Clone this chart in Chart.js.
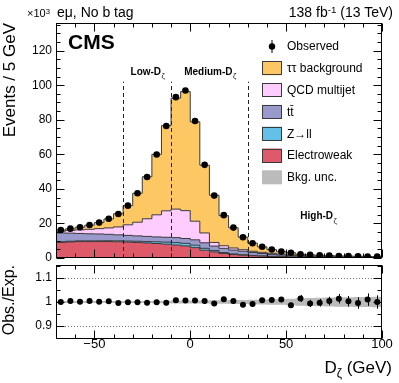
<!DOCTYPE html>
<html>
<head>
<meta charset="utf-8">
<script src="https://cdn.jsdelivr.net/npm/chart.js@4.4.1/dist/chart.umd.min.js"></script>
<style>
  html, body { margin: 0; padding: 0; background: #fff; }
  body { width: 399px; height: 383px; position: relative; overflow: hidden;
         font-family: 'Liberation Sans', Arial, Helvetica, sans-serif; color: #000; }
  canvas { position: absolute; left: 0; }
  #main { top: 0; }
  #ratio { top: 261px; }
  .txt { position: absolute; white-space: nowrap; line-height: 1; }
  .txt sup { font-size: 70%; vertical-align: 0.45em; line-height: 0; }
  .txt sub { font-size: 70%; vertical-align: -0.35em; line-height: 0; }
</style>
</head>
<body>
<canvas id="main" width="399" height="262" style="width:399px;height:262px"></canvas>
<canvas id="ratio" width="399" height="122" style="width:399px;height:122px"></canvas>
<div class="txt" style="left:27px; top:8px; font-size:11px;">×10<sup>3</sup></div>
<div class="txt" style="left:57px; top:5px; font-size:14px;">eμ, No b tag</div>
<div class="txt" style="right:6px; top:5px; font-size:14px;">138 fb<sup>-1</sup> (13 TeV)</div>
<div class="txt" style="right:7px; top:359px; font-size:17px;">D<sub>ζ</sub> (GeV)</div>
<script>
// D_zeta binning, 5 GeV bins from -70 to 100 (values in units of 10^3 events)
const binWidth = 5
const binCenters = [-67.5, -62.5, -57.5, -52.5, -47.5, -42.5, -37.5, -32.5, -27.5, -22.5,
  -17.5, -12.5, -7.5, -2.5, 2.5, 7.5, 12.5, 17.5, 22.5, 27.5,
  32.5, 37.5, 42.5, 47.5, 52.5, 57.5, 62.5, 67.5, 72.5, 77.5,
  82.5, 87.5, 92.5, 97.5]

const observed = [16.2, 17.0, 17.8, 19.1, 20.5, 22.7, 25.5, 30.3, 37.5, 46.9,
  59.9, 76.4, 93.1, 96.9, 79.3, 53.9, 36.1, 24.8, 17.6, 12.0,
  8.5, 6.5, 4.9, 3.7, 3.0, 2.2, 1.8, 1.6, 1.4, 1.2,
  1.1, 1.0, 0.9, 0.8]

const electroweak = [9.0, 9.3, 9.5, 9.5, 9.5, 9.5, 9.4, 9.2, 9.0, 8.7,
  8.4, 8.0, 7.5, 7.0, 6.0, 4.5, 3.5, 2.6, 2.0, 1.6,
  1.3, 1.05, 0.85, 0.7, 0.55, 0.45, 0.35, 0.3, 0.25, 0.2,
  0.18, 0.15, 0.12, 0.1]

const zll = [0.4, 0.4, 0.4, 0.4, 0.45, 0.5, 0.55, 0.6, 0.7, 0.8,
  1.0, 1.2, 1.4, 1.5, 1.4, 1.1, 0.8, 0.55, 0.4, 0.3,
  0.2, 0.15, 0.12, 0.1, 0.08, 0.06, 0.05, 0.04, 0.03, 0.03,
  0.02, 0.02, 0.02, 0.02]

const ttbar = [5.1, 4.7, 4.3, 4.1, 3.95, 3.7, 3.45, 3.3, 3.1, 3.0,
  2.8, 2.8, 2.9, 2.8, 3.1, 3.2, 2.6, 2.45, 2.2, 2.0,
  1.7, 1.4, 1.13, 0.9, 0.77, 0.59, 0.5, 0.41, 0.32, 0.27,
  0.25, 0.23, 0.21, 0.18]

const qcd = [1.0, 1.6, 2.1, 2.6, 3.1, 3.7, 4.6, 6.1, 7.9, 10.2,
  12.8, 15.3, 16.5, 16.1, 10.8, 5.7, 2.1, 1.5, 1.2, 0.9,
  0.7, 0.7, 0.6, 0.5, 0.4, 0.4, 0.3, 0.25, 0.25, 0.2,
  0.15, 0.1, 0.1, 0.1]

const tautau = [0.7, 0.9, 1.5, 2.4, 3.5, 5.2, 7.6, 11.1, 16.8, 24.3,
  35.0, 49.3, 64.2, 68.9, 57.5, 39.2, 27.3, 17.4, 11.7, 7.3,
  4.7, 3.15, 2.16, 1.46, 1.24, 0.67, 0.61, 0.6, 0.54, 0.48,
  0.5, 0.5, 0.44, 0.4]

// Obs./Exp. ratio panel
const ratio = [1.000, 1.004, 1.001, 1.004, 1.001, 1.003, 0.996, 0.999, 0.999, 0.997,
  0.999, 0.997, 1.007, 1.006, 1.006, 1.004, 0.994, 1.011, 1.004, 0.989,
  0.992, 1.007, 1.008, 1.010, 0.986, 1.015, 0.994, 0.997, 1.004, 1.014,
  1.003, 0.996, 1.010, 1.000]

const ratioErr = [0.003, 0.003, 0.003, 0.003, 0.003, 0.003, 0.003, 0.003, 0.003, 0.003,
  0.003, 0.003, 0.003, 0.003, 0.003, 0.003, 0.003, 0.003, 0.004, 0.005,
  0.006, 0.007, 0.008, 0.009, 0.011, 0.014, 0.015, 0.016, 0.018, 0.02,
  0.022, 0.024, 0.026, 0.028]

const bkgUnc = [0.004, 0.004, 0.004, 0.004, 0.004, 0.004, 0.004, 0.004, 0.004, 0.004,
  0.005, 0.005, 0.006, 0.006, 0.006, 0.006, 0.007, 0.007, 0.008, 0.008,
  0.009, 0.01, 0.011, 0.012, 0.014, 0.016, 0.017, 0.018, 0.019, 0.02,
  0.02, 0.021, 0.021, 0.022]

// axis ticks
const xTickLabels = [-50, 0, 50, 100]
const yTickLabels = [0, 20, 40, 60, 80, 100, 120]
const ratioTickLabels = [0.9, 1, 1.1]
const ratioRefLines = [0.9, 1.1]

// category boundaries and their labels
const regionEdges = [-35, -10, 30]
const regionLabels = [
  { name: 'Low-D', x: -22.3, y: 106 },
  { name: 'Medium-D', x: 10.3, y: 106 },
  { name: 'High-D', x: 66.8, y: 22.5 }
]

const font = "'Liberation Sans', Arial, Helvetica, sans-serif"

const colors = {
  tautau: '#fdc864',
  qcd: '#ffccff',
  ttbar: '#9999cc',
  zll: '#64c0e8',
  ew: '#de5a6a',
  unc: '#bbbbbb',
  outline: '#3a3a3a'
}

// turn per-bin values into step points on the bin edges
function steps(values) {
  const pts = values.map((v, i) => ({ x: binCenters[i] - binWidth / 2, y: v }))
  pts.push({ x: binCenters[binCenters.length - 1] + binWidth / 2, y: values[values.length - 1] })
  return pts
}

function points(values) {
  return values.map((v, i) => ({ x: binCenters[i], y: v }))
}

function stackSet(label, values, color, fill) {
  return {
    label: label,
    data: steps(values),
    stepped: true,
    fill: fill,
    backgroundColor: color,
    borderColor: colors.outline,
    borderWidth: 1,
    pointRadius: 0
  }
}

// fixed axis size, no extra room for the end labels
function fixWidth(s) {
  s.width = 56
  s.paddingTop = 0
  s.paddingBottom = 0
}

// ROOT style frame with inner ticks on all four sides
const rootFrame = {
  id: 'rootFrame',
  afterDraw(chart, args, opts) {
    const { ctx, chartArea: a } = chart
    const xs = chart.scales.x, ys = chart.scales.y
    ctx.save()
    ctx.strokeStyle = '#000'
    ctx.lineWidth = 1
    const L = Math.round(a.left) + 0.5, R = Math.round(a.right) - 0.5
    const T = Math.round(a.top) + 0.5, B = Math.round(a.bottom) - 0.5
    ctx.beginPath()
    const near = (v, step) => Math.abs(v / step - Math.round(v / step)) < 1e-6
    for (let v = opts.xStart; v <= xs.max + 1e-9; v += opts.xMinor) {
      const len = near(v, opts.xMajor) ? opts.major : opts.minor
      const px = Math.round(xs.getPixelForValue(v)) + 0.5
      ctx.moveTo(px, B); ctx.lineTo(px, B - len)
      ctx.moveTo(px, T); ctx.lineTo(px, T + len)
    }
    for (let v = opts.yStart; v <= ys.max + 1e-9; v += opts.yMinor) {
      const len = near(v, opts.yMajor) ? opts.major : opts.minor
      const py = Math.round(ys.getPixelForValue(v)) + 0.5
      ctx.moveTo(L, py); ctx.lineTo(L + len, py)
      ctx.moveTo(R, py); ctx.lineTo(R - len, py)
    }
    ctx.stroke()
    ctx.strokeRect(L, T, R - L, B - T)
    ctx.restore()
  }
}

// text with a small zeta subscript
function drawZetaLabel(ctx, name, cx, baseline, size) {
  ctx.font = 'bold ' + size + 'px ' + font
  const w1 = ctx.measureText(name).width
  ctx.font = (size * 0.75) + 'px ' + font
  const w2 = ctx.measureText('ζ').width
  const start = cx - (w1 + w2) / 2
  ctx.textAlign = 'left'
  ctx.textBaseline = 'alphabetic'
  ctx.font = 'bold ' + size + 'px ' + font
  ctx.fillText(name, start, baseline)
  ctx.font = (size * 0.75) + 'px ' + font
  ctx.fillText('ζ', start + w1 + 0.5, baseline + size * 0.35)
}

const annotations = {
  id: 'annotations',
  afterDatasetsDraw(chart) {
    const { ctx, chartArea: a } = chart
    const xs = chart.scales.x, ys = chart.scales.y
    ctx.save()
    // category boundaries
    ctx.strokeStyle = '#222'
    ctx.lineWidth = 1
    ctx.setLineDash([4, 3])
    regionEdges.forEach(v => {
      const px = Math.round(xs.getPixelForValue(v)) + 0.5
      ctx.beginPath()
      ctx.moveTo(px, ys.getPixelForValue(0))
      ctx.lineTo(px, ys.getPixelForValue(102))
      ctx.stroke()
    })
    ctx.setLineDash([])
    ctx.fillStyle = '#000'
    regionLabels.forEach(r => {
      drawZetaLabel(ctx, r.name, xs.getPixelForValue(r.x), ys.getPixelForValue(r.y), 10)
    })

    // CMS label
    ctx.font = 'bold 21px ' + font
    ctx.textAlign = 'left'
    ctx.textBaseline = 'alphabetic'
    ctx.fillText('CMS', a.left + 12, a.top + 26)

    // legend
    const lg = { x: 262, y0: 46.5, dy: 21.8, w: 20, h: 14, textX: 287 }
    const items = [
      { label: 'Observed', marker: true },
      { label: 'ττ background', color: colors.tautau },
      { label: 'QCD multijet', color: colors.qcd },
      { label: 't\u0074\u0304', color: colors.ttbar },
      { label: 'Z\u2192ll', color: colors.zll },
      { label: 'Electroweak', color: colors.ew },
      { label: 'Bkg. unc.', color: colors.unc, noBorder: true }
    ]
    ctx.font = '12px ' + font
    ctx.textBaseline = 'middle'
    items.forEach((it, i) => {
      const cy = lg.y0 + i * lg.dy
      if (it.marker) {
        const cx = lg.x + lg.w / 2
        ctx.strokeStyle = '#000'
        ctx.beginPath()
        ctx.moveTo(cx, cy - 6.5); ctx.lineTo(cx, cy + 6.5)
        ctx.stroke()
        ctx.beginPath()
        ctx.arc(cx, cy, 3.2, 0, Math.PI * 2)
        ctx.fill()
      } else {
        ctx.fillStyle = it.color
        ctx.fillRect(lg.x, cy - lg.h / 2, lg.w, lg.h)
        if (!it.noBorder) {
          ctx.strokeStyle = colors.outline
          ctx.strokeRect(lg.x + 0.5, Math.round(cy - lg.h / 2) + 0.5, lg.w - 1, lg.h - 1)
        }
      }
      ctx.fillStyle = '#000'
      ctx.fillText(it.label, lg.textX, cy + 0.5)
    })
    ctx.restore()
  }
}

// error bars and reference lines of the ratio panel
const ratioDecor = {
  id: 'ratioDecor',
  beforeDatasetsDraw(chart) {
    const { ctx, chartArea: a } = chart
    const ys = chart.scales.y
    ctx.save()
    ctx.strokeStyle = '#777'
    ctx.lineWidth = 1
    ctx.setLineDash([1, 2])
    ratioRefLines.forEach(v => {
      const py = Math.round(ys.getPixelForValue(v)) + 0.5
      ctx.beginPath()
      ctx.moveTo(a.left, py); ctx.lineTo(a.right, py)
      ctx.stroke()
    })
    ctx.restore()
  },
  afterDatasetsDraw(chart) {
    const { ctx } = chart
    const xs = chart.scales.x, ys = chart.scales.y
    ctx.save()
    ctx.strokeStyle = '#000'
    ctx.lineWidth = 1
    ctx.beginPath()
    ratio.forEach((r, i) => {
      const px = Math.round(xs.getPixelForValue(binCenters[i])) + 0.5
      ctx.moveTo(px, ys.getPixelForValue(r - ratioErr[i]))
      ctx.lineTo(px, ys.getPixelForValue(r + ratioErr[i]))
    })
    ctx.stroke()
    ctx.restore()
  }
}

const tickFont = { family: font, size: 12 }
const noGrid = { display: false, drawTicks: false }

new Chart(document.getElementById('main'), {
  type: 'line',
  data: {
    datasets: [
      {
        label: 'Observed',
        data: points(observed),
        stack: 'obs',
        showLine: false,
        pointRadius: 3.3,
        pointBorderWidth: 0,
        pointBackgroundColor: '#000',
        pointBorderColor: '#000'
      },
      stackSet('Electroweak', electroweak, colors.ew, 'origin'),
      stackSet('Z\u2192ll', zll, colors.zll, '-1'),
      stackSet('t\u0074\u0304', ttbar, colors.ttbar, '-1'),
      stackSet('QCD multijet', qcd, colors.qcd, '-1'),
      stackSet('ττ background', tautau, colors.tautau, '-1')
    ]
  },
  options: {
    responsive: false,
    animation: false,
    layout: { padding: { top: 23, right: 17, bottom: 3, left: 0 } },
    plugins: {
      legend: { display: false },
      tooltip: { enabled: false },
      rootFrame: { xStart: -70, xMinor: 10, xMajor: 50, yStart: 0, yMinor: 5, yMajor: 20, major: 8, minor: 4 }
    },
    scales: {
      x: { type: 'linear', min: -70, max: 100, display: false },
      y: {
        stacked: true,
        min: 0,
        max: 136,
        afterBuildTicks: s => { s.ticks = yTickLabels.map(v => ({ value: v })) },
        afterFit: fixWidth,
        grid: noGrid,
        border: { display: false },
        ticks: { font: tickFont, color: '#000', padding: 4 },
        title: {
          display: true,
          text: 'Events / 5 GeV',
          align: 'end',
          color: '#000',
          font: { family: font, size: 17 },
          padding: 0
        }
      }
    }
  },
  plugins: [annotations, rootFrame]
})

new Chart(document.getElementById('ratio'), {
  type: 'line',
  data: {
    datasets: [
      {
        label: 'Obs./Exp.',
        data: points(ratio),
        showLine: false,
        pointRadius: 3,
        pointBorderWidth: 0,
        pointBackgroundColor: '#000'
      },
      {
        label: 'unc-down',
        data: steps(bkgUnc.map(u => 1 - u)),
        stepped: true,
        borderWidth: 0,
        pointRadius: 0,
        fill: false
      },
      {
        label: 'Bkg. unc.',
        data: steps(bkgUnc.map(u => 1 + u)),
        stepped: true,
        borderWidth: 0,
        pointRadius: 0,
        fill: '-1',
        backgroundColor: colors.unc
      }
    ]
  },
  options: {
    responsive: false,
    animation: false,
    layout: { padding: { top: 3, right: 17, bottom: 0, left: 0 } },
    plugins: {
      legend: { display: false },
      tooltip: { enabled: false },
      rootFrame: { xStart: -70, xMinor: 10, xMajor: 50, yStart: 0.85, yMinor: 0.05, yMajor: 0.1, major: 8, minor: 4 }
    },
    scales: {
      x: {
        type: 'linear',
        min: -70,
        max: 100,
        afterBuildTicks: s => { s.ticks = xTickLabels.map(v => ({ value: v })) },
        afterFit: s => { s.height = 44; s.paddingLeft = 0; s.paddingRight = 0 },
        grid: noGrid,
        border: { display: false },
        ticks: {
          font: { family: font, size: 13 },
          color: '#000',
          padding: -2,
          autoSkip: false,
          maxRotation: 0,
          callback: v => v < 0 ? '\u2212' + Math.abs(v) : String(v)
        }
      },
      y: {
        min: 0.845,
        max: 1.155,
        afterBuildTicks: s => { s.ticks = ratioTickLabels.map(v => ({ value: v })) },
        afterFit: fixWidth,
        grid: noGrid,
        border: { display: false },
        ticks: { font: tickFont, color: '#000', padding: 4, callback: v => String(v) },
        title: {
          display: true,
          text: 'Obs./Exp.',
          align: 'end',
          color: '#000',
          font: { family: font, size: 16 },
          padding: 0
        }
      }
    }
  },
  plugins: [ratioDecor, rootFrame]
})
</script>
</body>
</html>
